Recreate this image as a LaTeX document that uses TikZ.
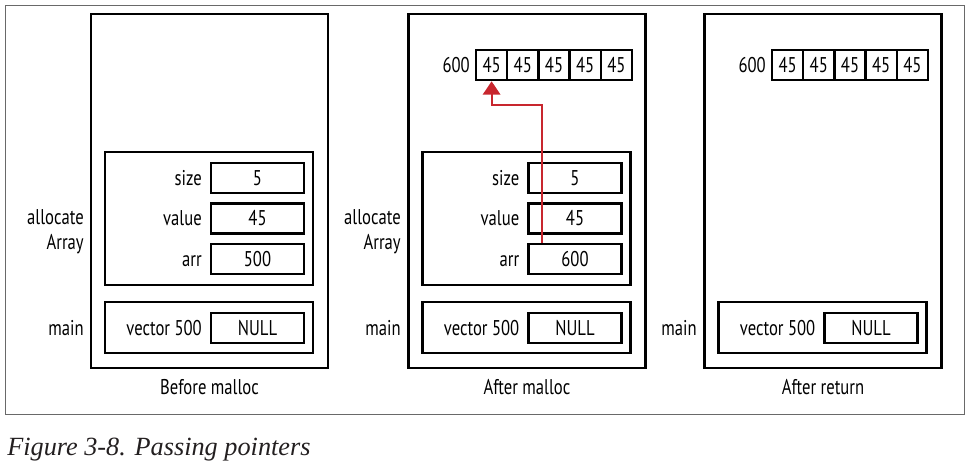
\documentclass[tikz,border=0pt]{standalone}
\usepackage{fontspec}
\setsansfont{PT Sans}[FakeStretch=0.78]
\newfontfamily\capfont{Liberation Serif}
\usepackage{tikz}
\usetikzlibrary{arrows.meta}
\usetikzlibrary{positioning}
\usepackage{color}
\newdimen\px \px=0.75pt
\definecolor{ptrred}{RGB}{200,38,46}
\definecolor{framegray}{RGB}{105,105,105}
\definecolor{capgray}{RGB}{35,31,32}

\begin{document}
\begin{tikzpicture}
    [
    x=0.75pt, y=-0.75pt,
    every node/.style = {font=\sffamily\fontsize{16}{18.75}\selectfont, inner sep=0pt},
    txt/.style = {text height=11pt, text depth=0pt},
    panel/.style = {draw, line width=2pt, minimum width=237\px, minimum height=354\px},
    frame/.style = {draw, line width=1.9pt, minimum width=208\px},
    slot/.style = {txt, draw, line width=1.9pt, minimum width=93\px, minimum height=30\px},
    cell/.style = {txt, draw, line width=1.9pt, minimum width=31.2\px, minimum height=30\px},
    lbl/.style = {txt, anchor=east},
    ptr/.style = {draw=ptrred, line width=1.6pt, -{Triangle[length=10pt,width=13pt]}}
    ]
\useasboundingbox (0,0) rectangle (978,471);
\draw[framegray, line width=0.75pt] (5,5) rectangle (964,414);

% before malloc
\node[panel] (p1) at (209.5,191) {};
\node[frame, minimum height=133\px] (a1) at (209,218.5) {};
\node[frame, minimum height=51\px] (m1) at (209,327.5) {};
\node[slot] (s1) at (257.5,178) {5};
\node[slot] (v1) at (257.5,218.5) {45};
\node[slot] (r1) at (257.5,259) {500};
\node[slot] (n1) at (257.5,328) {NULL};
\node[lbl] (sl1) at (202,178) {size};
\node[lbl] (vl1) at (202,218.5) {value};
\node[lbl] (rl1) at (202,259) {arr};
\node[lbl] (nl1) at (202,328) {vector 500};
\node[anchor=east, align=right] (al1) at (84,232) {allocate\\Array};
\node[lbl] (ml1) at (84,328) {main};
\node[txt] (t1) at (209.5,387) {Before malloc};

% after malloc
\node[panel] (p2) at (527,191) {};
\node[frame, minimum height=133\px] (a2) at (526.5,218.5) {};
\node[frame, minimum height=51\px] (m2) at (526.5,327.5) {};
\node[slot] (s2) at (575,178) {5};
\node[slot] (v2) at (575,218.5) {45};
\node[slot] (r2) at (575,259) {600};
\node[slot] (n2) at (575,328) {NULL};
\node[lbl] (sl2) at (519.5,178) {size};
\node[lbl] (vl2) at (519.5,218.5) {value};
\node[lbl] (rl2) at (519.5,259) {arr};
\node[lbl] (nl2) at (519.5,328) {vector 500};
\node[anchor=east, align=right] (al2) at (401,232) {allocate\\Array};
\node[lbl] (ml2) at (401,328) {main};
\node[txt] (t2) at (527,387) {After malloc};
\node[cell] (c21) at (491.6,65) {45};
\node[cell] (c22) at (522.8,65) {45};
\node[cell] (c23) at (554,65) {45};
\node[cell] (c24) at (585.2,65) {45};
\node[cell] (c25) at (616.4,65) {45};
\node[lbl] (h2) at (470,65) {600};

% after return
\node[panel] (p3) at (823,191) {};
\node[frame, minimum height=51\px] (m3) at (822.5,327.5) {};
\node[slot] (n3) at (871,328) {NULL};
\node[lbl] (nl3) at (815.5,328) {vector 500};
\node[lbl] (ml3) at (697,328) {main};
\node[txt] (t3) at (823,387) {After return};
\node[cell] (c31) at (787.6,65) {45};
\node[cell] (c32) at (818.8,65) {45};
\node[cell] (c33) at (850,65) {45};
\node[cell] (c34) at (881.2,65) {45};
\node[cell] (c35) at (912.4,65) {45};
\node[lbl] (h3) at (766,65) {600};

\coordinate (q) at ([xshift=15\px]r2.north west);
\draw[ptr] (q) -- ++(0,-138) -| (c21.south);

\node[anchor=base west, font=\capfont\itshape\fontsize{19.7}{22}\selectfont, text=capgray] (cap) at (7,455) {Figure 3-8. Passing pointers};
\end{tikzpicture}
\end{document}
